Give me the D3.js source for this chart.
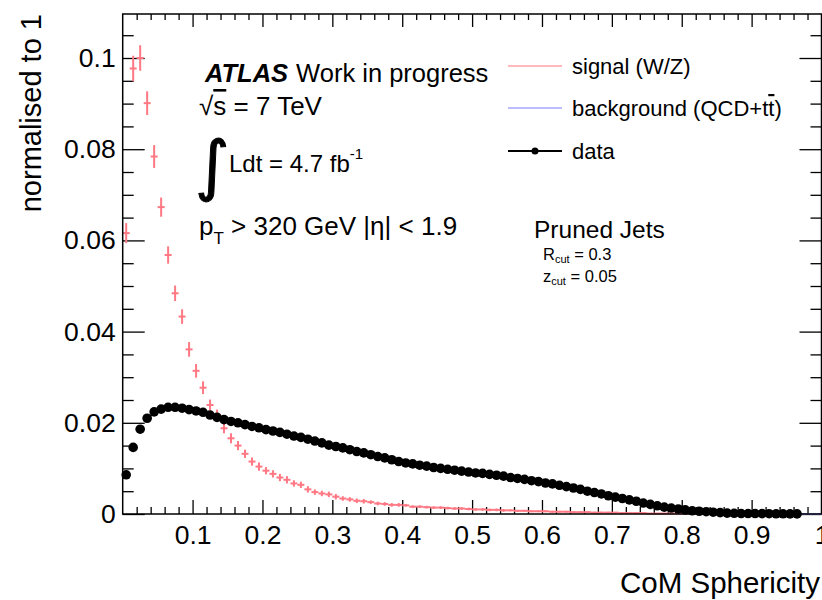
<!DOCTYPE html>
<html>
<head>
<meta charset="utf-8">
<script src="https://cdn.jsdelivr.net/npm/d3@7"></script>
<style>
  html, body { margin: 0; padding: 0; background: #fff; }
  svg { display: block; font-family: "Liberation Sans", Arial, Helvetica, sans-serif; }
</style>
</head>
<body>
<svg id="chart" width="822" height="600"></svg>
<script>
// ---- histogram contents: 100 bins of width 0.01 on CoM sphericity [0, 1] ----
const binWidth = 0.01;
const nBins = 100;

// signal (W/Z), normalised to 1
const signal = [
  0.0616, 0.0977, 0.1000, 0.0901, 0.0784, 0.0673, 0.0568, 0.0484, 0.0433, 0.0361,
  0.0314, 0.0277, 0.0239, 0.0217, 0.0188, 0.0166, 0.0150, 0.0132, 0.0115, 0.0104,
  0.0095, 0.0088, 0.0080, 0.0075, 0.0067, 0.0064, 0.0054, 0.0048, 0.0045, 0.0043,
  0.0038, 0.0034, 0.0032, 0.0029, 0.0028, 0.0026, 0.0023, 0.0022, 0.0020, 0.0020,
  0.0019, 0.0016, 0.0016, 0.0015, 0.0014, 0.0014, 0.0013, 0.0012, 0.0012, 0.0011,
  0.0010, 0.0010, 0.0009, 0.0009, 0.0008, 0.0008, 0.0007, 0.0007, 0.0006, 0.0006,
  0.0006, 0.0005, 0.0005, 0.0005, 0.0004, 0.0004, 0.0004, 0.0003, 0.0003, 0.0003,
  0.0003, 0.0002, 0.0002, 0.0002, 0.0002, 0.0001, 0.0001, 0.0001, 0.0001, 0.0001,
  0.0001, 0.0001, 0.00005, 0.00005, 0, 0, 0, 0, 0, 0,
  0, 0, 0, 0, 0, 0, 0, 0, 0, 0
];

// statistical uncertainty on the signal
const signalErr = [
  0.0022, 0.0028, 0.0028, 0.0026, 0.0025, 0.0021, 0.0019, 0.0017, 0.0016, 0.0016,
  0.0015, 0.0014, 0.0012, 0.0012, 0.0011, 0.0011, 0.0010, 0.0009, 0.0009, 0.0009,
  0.0008, 0.0008, 0.0008, 0.0008, 0.0007, 0.0007, 0.0007, 0.0006, 0.0006, 0.0006,
  0.0006, 0.0005, 0.0005, 0.0005, 0.0005, 0.0004, 0.0004, 0.0004, 0.0004, 0.0004,
  0.0003, 0.0003, 0.0003, 0.0003, 0.0003, 0.0003, 0.0003, 0.0003, 0.0003, 0.0003,
  0.0003, 0.0003, 0.0003, 0.0003, 0.0003, 0.0002, 0.0002, 0.0002, 0.0002, 0.0002,
  0.0002, 0.0002, 0.0002, 0.0002, 0.0002, 0.0002, 0.0002, 0.0002, 0.0002, 0.0002,
  0.0001, 0.0001, 0.0001, 0.0001, 0.0001, 0.0001, 0.0001, 0.0001, 0.0001, 0.0001,
  0.0001, 0.0001, 0.0001, 0.0001, 0, 0, 0, 0, 0, 0,
  0, 0, 0, 0, 0, 0, 0, 0, 0, 0
];

// background (QCD + ttbar), normalised to 1
const background = [
  0.0086, 0.0146, 0.0186, 0.0210, 0.0224, 0.0230, 0.0234, 0.0234, 0.0232, 0.0229,
  0.0226, 0.0223, 0.0217, 0.0212, 0.0207, 0.0203, 0.0200, 0.0196, 0.0192, 0.0189,
  0.0185, 0.0182, 0.0179, 0.0175, 0.0171, 0.0168, 0.0164, 0.0160, 0.0156, 0.0151,
  0.0148, 0.0145, 0.0141, 0.0137, 0.0134, 0.0130, 0.0126, 0.0123, 0.0119, 0.0115,
  0.0112, 0.0110, 0.0107, 0.0105, 0.0102, 0.0100, 0.0098, 0.0096, 0.0094, 0.0092,
  0.0090, 0.0089, 0.0087, 0.0085, 0.0083, 0.0080, 0.0078, 0.0076, 0.0073, 0.0071,
  0.0068, 0.0066, 0.0063, 0.0060, 0.0057, 0.0054, 0.0050, 0.0047, 0.0044, 0.0040,
  0.0037, 0.0034, 0.0031, 0.0028, 0.0024, 0.0021, 0.0018, 0.0015, 0.0013, 0.0011,
  0.0009, 0.0007, 0.0006, 0.0005, 0.0004, 0.0003, 0.0002, 0.00015, 0.0001, 0.0001,
  0.0001, 0.00008, 0.00006, 0.00005, 0.00004, 0.00003, 0.00002, 0, 0, 0
];

// data, normalised to 1 (empty bins are null)
const data = [
  0.0086, 0.0146, 0.0186, 0.0210, 0.0224, 0.0230, 0.0234, 0.0234, 0.0232, 0.0229,
  0.0226, 0.0223, 0.0217, 0.0212, 0.0207, 0.0203, 0.0200, 0.0196, 0.0192, 0.0189,
  0.0185, 0.0182, 0.0179, 0.0175, 0.0171, 0.0168, 0.0164, 0.0160, 0.0156, 0.0151,
  0.0148, 0.0145, 0.0141, 0.0137, 0.0134, 0.0130, 0.0126, 0.0123, 0.0119, 0.0115,
  0.0112, 0.0110, 0.0107, 0.0105, 0.0102, 0.0100, 0.0098, 0.0096, 0.0094, 0.0092,
  0.0090, 0.0089, 0.0087, 0.0085, 0.0083, 0.0080, 0.0078, 0.0076, 0.0073, 0.0071,
  0.0068, 0.0066, 0.0063, 0.0060, 0.0057, 0.0054, 0.0050, 0.0047, 0.0044, 0.0040,
  0.0037, 0.0034, 0.0031, 0.0028, 0.0024, 0.0021, 0.0018, 0.0015, 0.0013, 0.0011,
  0.0009, 0.0007, 0.0006, 0.0005, 0.0004, 0.0003, 0.0002, 0.00015, 0.0001, 0.0001,
  0.0001, 0.00008, 0.00006, 0.00005, 0.00004, 0.00003, 0.00002, null, null, null
];

// axis ticks
const xTickValues = [0.1, 0.2, 0.3, 0.4, 0.5, 0.6, 0.7, 0.8, 0.9, 1.0];
const xTickLabels = ["0.1", "0.2", "0.3", "0.4", "0.5", "0.6", "0.7", "0.8", "0.9", "1"];
const yTickValues = [0, 0.02, 0.04, 0.06, 0.08, 0.1];
const yTickLabels = ["0", "0.02", "0.04", "0.06", "0.08", "0.1"];

// legend entries
const legendEntries = [
  { label: "signal (W/Z)", kind: "signal" },
  { label: "background (QCD+t", kind: "background" },
  { label: "data", kind: "data" }
];

// ---- layout ----
const FONT = '"Liberation Sans", Arial, Helvetica, sans-serif';
const frame = { left: 122.7, right: 821.5, top: 14, bottom: 514 };
const sigColor = "#ff7883";
const bkgColor = "#8c8cff";

const svg = d3.select("#chart");
const x = d3.scaleLinear().domain([0, 1]).range([frame.left, frame.right]);
const y = d3.scaleLinear().domain([0, 0.10965]).range([frame.bottom, frame.top]);

const centers = d3.range(nBins).map(i => (i + 0.5) * binWidth);

// ---- axes (ROOT style: ticks inside the frame on all four sides) ----
const xMinor = d3.range(0, 51).map(i => i * 0.02).filter(v => Math.abs(v * 10 - Math.round(v * 10)) > 1e-6);
const yMinor = d3.range(0, 22).map(i => i * 0.005).filter(v => Math.abs(v * 50 - Math.round(v * 50)) > 1e-6);

function styleAxis(g) {
  g.select(".domain").remove();
  g.attr("font-family", FONT).attr("font-size", 26.5);
  g.selectAll(".tick line").attr("stroke", "#000").attr("stroke-width", 1.3);
  g.selectAll(".tick text").attr("fill", "#000");
}

svg.append("g").attr("transform", `translate(0,${frame.bottom})`)
  .call(d3.axisBottom(x).tickValues(xTickValues).tickSize(-14).tickPadding(11)
    .tickFormat((d, i) => xTickLabels[i]))
  .call(styleAxis);
svg.append("g").attr("transform", `translate(0,${frame.bottom})`)
  .call(d3.axisBottom(x).tickValues(xMinor).tickSize(-7).tickFormat(""))
  .call(styleAxis);
svg.append("g").attr("transform", `translate(0,${frame.top})`)
  .call(d3.axisTop(x).tickValues(xTickValues).tickSize(-13).tickFormat(""))
  .call(styleAxis);
svg.append("g").attr("transform", `translate(0,${frame.top})`)
  .call(d3.axisTop(x).tickValues(xMinor).tickSize(-6).tickFormat(""))
  .call(styleAxis);

svg.append("g").attr("transform", `translate(${frame.left},0)`)
  .call(d3.axisLeft(y).tickValues(yTickValues).tickSize(-22).tickPadding(7)
    .tickFormat((d, i) => yTickLabels[i]))
  .call(styleAxis);
svg.append("g").attr("transform", `translate(${frame.left},0)`)
  .call(d3.axisLeft(y).tickValues(yMinor).tickSize(-11).tickFormat(""))
  .call(styleAxis);
svg.append("g").attr("transform", `translate(${frame.right},0)`)
  .call(d3.axisRight(y).tickValues(yTickValues).tickSize(-22).tickFormat(""))
  .call(styleAxis);
svg.append("g").attr("transform", `translate(${frame.right},0)`)
  .call(d3.axisRight(y).tickValues(yMinor).tickSize(-11).tickFormat(""))
  .call(styleAxis);

// ---- background: one horizontal bar per bin ----
svg.append("g").attr("stroke", bkgColor).attr("stroke-width", 2)
  .selectAll("line")
  .data(background.map((v, i) => ({ c: centers[i], v })))
  .join("line")
  .attr("x1", d => x(d.c - binWidth / 2)).attr("x2", d => x(d.c + binWidth / 2))
  .attr("y1", d => y(d.v)).attr("y2", d => y(d.v));

// ---- signal: bin-width bars with vertical error bars ----
const sig = svg.append("g").attr("stroke", sigColor).attr("stroke-width", 2).attr("fill", "none");
signal.forEach((v, i) => {
  if (v <= 0) return;
  const c = centers[i], e = signalErr[i];
  sig.append("line")
    .attr("x1", x(c - binWidth / 2)).attr("x2", x(c + binWidth / 2))
    .attr("y1", y(v)).attr("y2", y(v));
  if (e > 0) {
    sig.append("line")
      .attr("x1", x(c)).attr("x2", x(c))
      .attr("y1", y(v - e)).attr("y2", y(v + e));
  }
});

// ---- data markers ----
svg.append("g").selectAll("circle")
  .data(centers.map((c, i) => ({ c, v: data[i] })).filter(d => d.v !== null))
  .join("circle")
  .attr("cx", d => x(d.c)).attr("cy", d => y(d.v)).attr("r", 4.8)
  .attr("fill", "#000");

// ---- frame ----
svg.append("rect")
  .attr("x", frame.left).attr("y", frame.top)
  .attr("width", frame.right - frame.left).attr("height", frame.bottom - frame.top)
  .attr("fill", "none").attr("stroke", "#000").attr("stroke-width", 1.5);

// ---- axis titles ----
svg.append("text")
  .attr("x", 820).attr("y", 593).attr("text-anchor", "end")
  .attr("font-size", 29.5).attr("fill", "#000")
  .text("CoM Sphericity");
svg.append("text")
  .attr("transform", "translate(41,14) rotate(-90)").attr("text-anchor", "end")
  .attr("font-size", 29).attr("fill", "#000")
  .text("normalised to 1");

// ---- labels ----
const lab = svg.append("g").attr("fill", "#000");
const t1 = lab.append("text").attr("x", 205).attr("y", 82).attr("font-size", 25.5);
t1.append("tspan").attr("font-weight", "bold").attr("font-style", "italic").text("ATLAS");
t1.append("tspan").attr("dx", 8).text("Work in progress");

const t2 = lab.append("text").attr("x", 199).attr("y", 115).attr("font-size", 26);
t2.append("tspan").text("\u221A");
t2.append("tspan").attr("style", "text-decoration: overline").text("s");
t2.append("tspan").text(" = 7 TeV");

lab.append("text").attr("x", 195).attr("y", 188).attr("font-size", 66)
  .attr("font-family", "DejaVu Sans").attr("stroke", "#000").attr("stroke-width", 1)
  .text("\u222B");
const t3 = lab.append("text").attr("x", 229).attr("y", 172).attr("font-size", 24);
t3.append("tspan").text("Ldt = 4.7 fb");
t3.append("tspan").attr("font-size", 15).attr("dy", -13).text("-1");

const t4 = lab.append("text").attr("x", 199).attr("y", 235).attr("font-size", 26);
t4.append("tspan").text("p");
t4.append("tspan").attr("font-size", 17).attr("dy", 9).text("T");
t4.append("tspan").attr("dy", -9).text(" > 320 GeV |\u03B7| < 1.9");

lab.append("text").attr("x", 534).attr("y", 238).attr("font-size", 24.5).text("Pruned Jets");
const t5 = lab.append("text").attr("x", 543).attr("y", 260).attr("font-size", 16.5);
t5.append("tspan").text("R");
t5.append("tspan").attr("font-size", 11).attr("dy", 3).text("cut");
t5.append("tspan").attr("dy", -3).text(" = 0.3");
const t6 = lab.append("text").attr("x", 543).attr("y", 282).attr("font-size", 16.5);
t6.append("tspan").text("z");
t6.append("tspan").attr("font-size", 11).attr("dy", 3).text("cut");
t6.append("tspan").attr("dy", -3).text(" = 0.05");

// ---- legend ----
const legY = [66, 108, 151];
const leg = svg.append("g");
legendEntries.forEach((d, i) => {
  const yy = legY[i];
  const stroke = d.kind === "signal" ? "#ffa0a6" : d.kind === "background" ? "#a6a6ff" : "#000";
  leg.append("line").attr("x1", 508).attr("x2", 562).attr("y1", yy).attr("y2", yy)
    .attr("stroke", stroke).attr("stroke-width", d.kind === "data" ? 2 : 1.5);
  if (d.kind === "data") {
    leg.append("circle").attr("cx", 535).attr("cy", yy).attr("r", 3.5).attr("fill", "#000");
  }
  const tx = leg.append("text").attr("x", 572).attr("y", yy + 8).attr("font-size", 22).attr("fill", "#000");
  tx.append("tspan").text(d.label);
  if (d.kind === "background") {
    tx.append("tspan").attr("style", "text-decoration: overline").text("t");
    tx.append("tspan").text(")");
  }
});
</script>
</body>
</html>
